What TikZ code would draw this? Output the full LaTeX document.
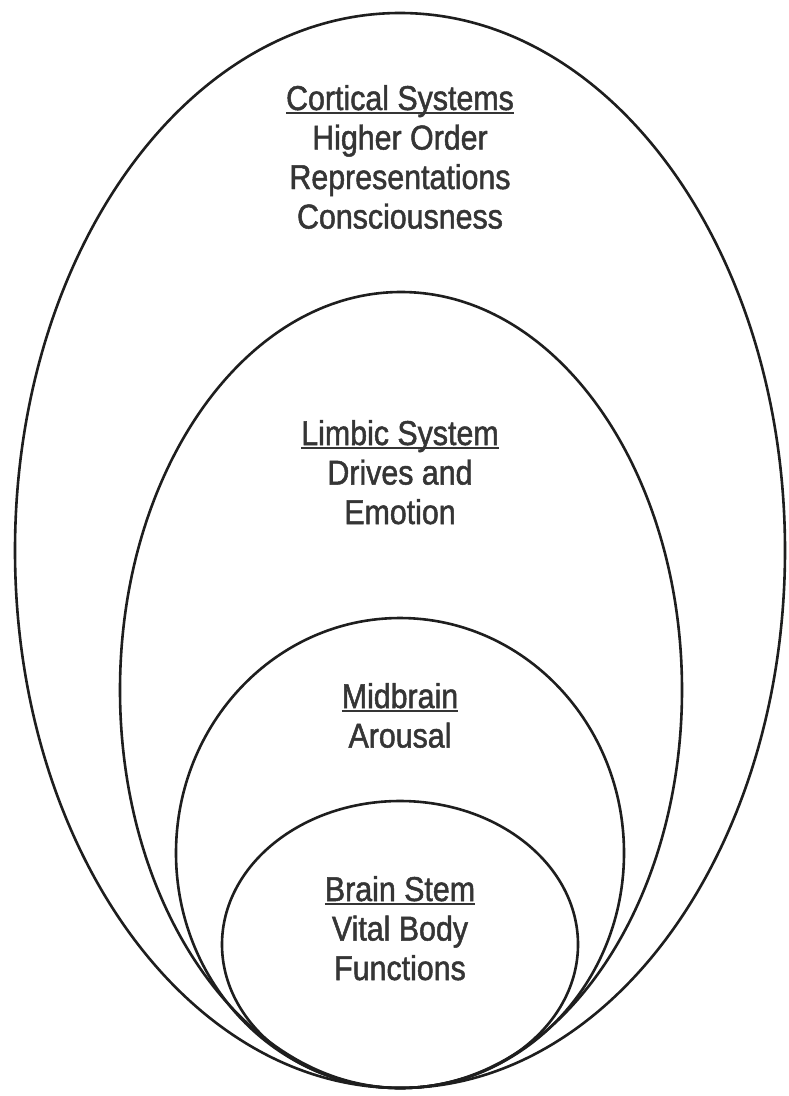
\documentclass[tikz,border=0pt]{standalone}
\usepackage{fontspec}
\setmainfont{Liberation Sans}[FakeStretch=0.88,FakeBold=1.4]
\definecolor{txt}{HTML}{353535}
\definecolor{ln}{HTML}{1E1E1E}
\newcommand\myul[1]{\setbox0\hbox{#1}\leavevmode\rlap{\color{txt}\rule[-4pt]{\wd0}{2pt}}\box0}
\begin{document}
\begin{tikzpicture}[x=1pt,y=-1pt,
  shell/.style={draw=ln,line width=2.6pt},
  lbl/.style={anchor=north,align=center,inner sep=0pt,outer sep=0pt,text=txt,
    font=\fontsize{34.5}{39.5}\selectfont}]
\useasboundingbox (0,0) rectangle (788,1096);
\fill[white] (0,0) rectangle (788,1096);
\draw[shell] (400,550.5) ellipse [x radius=385pt, y radius=537.5pt];
\draw[shell] (401,690) ellipse [x radius=281pt, y radius=398pt];
\draw[shell] (400,853) ellipse [x radius=224pt, y radius=235pt];
\draw[shell] (400,944.5) ellipse [x radius=178pt, y radius=143.5pt];
\node[lbl] (cortical) at (400,85) {\myul{Cortical Systems}\\Higher Order\\Representations\\Consciousness};
\node[lbl] (limbic) at (400,420) {\myul{Limbic System}\\Drives and\\Emotion};
\node[lbl] (midbrain) at (400,683) {\myul{Midbrain}\\Arousal};
\node[lbl] (stem) at (400,876) {\myul{Brain Stem}\\Vital Body\\Functions};
\end{tikzpicture}
\end{document}
